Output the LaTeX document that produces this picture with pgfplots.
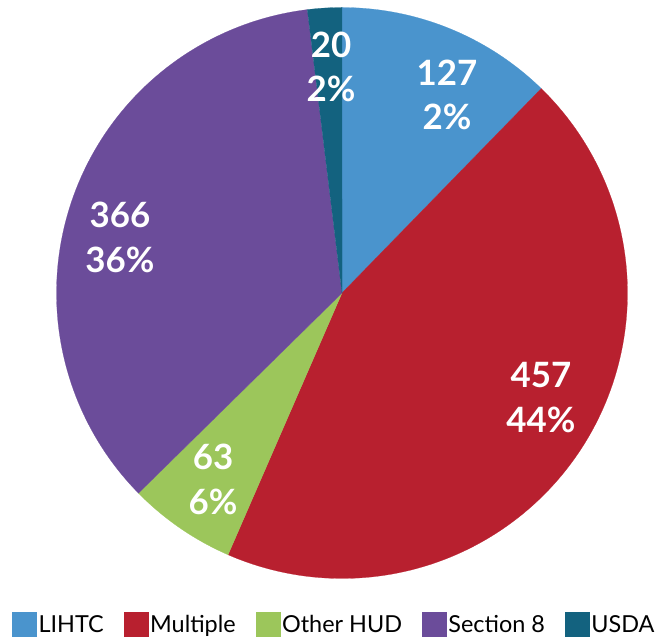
\documentclass[border=0pt]{standalone}
\usepackage{pgfplots}
\usepackage{pgfplotstable}
\pgfplotsset{compat=1.18}
\usepackage{fontspec}
\setmainfont{Lato}
\definecolor{c0}{HTML}{4A94CD}
\definecolor{c1}{HTML}{B8202F}
\definecolor{c2}{HTML}{9CC65B}
\definecolor{c3}{HTML}{6B4C9A}
\definecolor{c4}{HTML}{13627F}
\pgfplotstableread{
name value
LIHTC 127
Multiple 457
OtherHUD 63
Section8 366
USDA 20
}\piedata
\begin{document}
\begin{tikzpicture}
\pgfplotstablegetrowsof{\piedata}
\pgfmathtruncatemacro\nrows{\pgfplotsretval-1}
\def\total{0}
\pgfplotsforeachungrouped \i in {0,...,\nrows}{%
  \pgfplotstablegetelem{\i}{value}\of\piedata
  \pgfmathsetmacro\total{\total+\pgfplotsretval}}
\begin{axis}[
  scale only axis, width=662bp, height=638bp,
  xmin=0, xmax=662, ymin=0, ymax=638,
  hide axis, clip=false,
  legend columns=-1,
  legend style={at={(axis cs:12,13.5)}, anchor=west, draw=none, fill=none,
    inner sep=0pt, font=\fontsize{23.5}{28}\selectfont,
    nodes={inner sep=1bp},
    /tikz/every even column/.append style={column sep=19bp},
    /tikz/every odd column/.append style={column sep=1bp}},
  legend cell align=left,
  legend image code/.code={\fill[#1] (0,-12bp) rectangle (24bp,12bp);},
]
\def\cum{0}
\pgfplotsforeachungrouped \i in {0,...,\nrows}{%
  \pgfplotstablegetelem{\i}{value}\of\piedata
  \pgfmathsetmacro\a{\cum}%
  \pgfmathsetmacro\b{\cum+\pgfplotsretval}%
  \let\cum\b
  \edef\temp{\noexpand\addplot[forget plot, fill=c\i, draw=c\i, line width=0.2pt, domain=\a:\b, samples=120, variable=\noexpand\t]
    ({342+285.5*sin(\noexpand\t*360/\total)},{345+285.5*cos(\noexpand\t*360/\total)}) -- (axis cs:342,345) -- cycle;}%
  \temp
}
\addlegendimage{c0}\addlegendentry{LIHTC}
\addlegendimage{c1}\addlegendentry{Multiple}
\addlegendimage{c2}\addlegendentry{Other HUD}
\addlegendimage{c3}\addlegendentry{Section 8}
\addlegendimage{c4}\addlegendentry{USDA}
\tikzset{lab/.style={text=white, align=center, font=\fontsize{35}{45}\selectfont\bfseries}}
\node[lab] at (axis cs:447,543) {127\\2\%};
\node[lab] at (axis cs:541,240.5) {457\\44\%};
\node[lab] at (axis cs:213,159) {63\\6\%};
\node[lab] at (axis cs:120,400.5) {366\\36\%};
\node[lab] at (axis cs:331,571) {20\\2\%};
\end{axis}
\pgfresetboundingbox
\path[use as bounding box] (current axis.south west) rectangle (current axis.north east);
\end{tikzpicture}
\end{document}
